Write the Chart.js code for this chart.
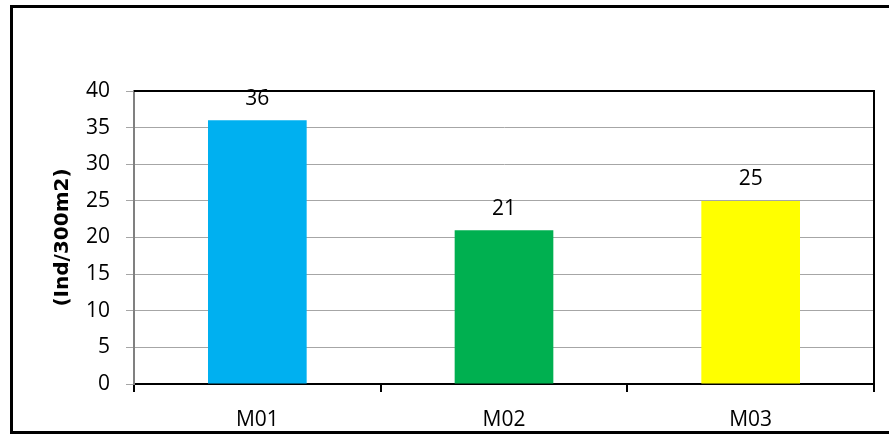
<!DOCTYPE html>
<html>
<head>
<meta charset="utf-8">
<script src="https://cdn.jsdelivr.net/npm/chart.js@4"></script>
<style>
  html, body { margin: 0; padding: 0; background: #fff; }
  #wrap { width: 889px; height: 435px; position: relative; }
</style>
</head>
<body>
<div id="wrap"><canvas id="grafico"></canvas></div>
<script>
const categorias = ['M01', 'M02', 'M03'];
const valores = [36, 21, 25];
const cores = ['#00B0F0', '#00B050', '#FFFF00'];
const tituloY = '(Ind/300m2)';

const fonte = "'Open Sans', 'DejaVu Sans', sans-serif";

// moldura externa + bordas de cima/direita do plot + rótulos das barras
const molduraPlugin = {
  id: 'moldura',
  afterDraw(chart) {
    const c = chart.ctx;
    const a = chart.chartArea;
    c.save();
    c.strokeStyle = '#000';
    c.lineWidth = 2;
    c.beginPath();
    c.moveTo(a.left, a.top);
    c.lineTo(a.right, a.top);
    c.lineTo(a.right, a.bottom + 8);
    c.stroke();
    c.lineWidth = 3;
    c.strokeRect(11.5, 6.5, 900, 426);
    c.restore();
  },
  afterDatasetsDraw(chart) {
    const c = chart.ctx;
    const meta = chart.getDatasetMeta(0);
    c.save();
    c.fillStyle = '#000';
    c.font = '21px ' + fonte;
    c.textAlign = 'center';
    c.textBaseline = 'bottom';
    meta.data.forEach((bar, i) => {
      c.fillText(String(valores[i]), bar.x, bar.y - 11);
    });
    c.restore();
  }
};

const ctx = document.getElementById('grafico').getContext('2d');
new Chart(ctx, {
  type: 'bar',
  data: {
    labels: categorias,
    datasets: [{
      data: valores,
      backgroundColor: cores,
      borderWidth: 0,
      categoryPercentage: 1,
      barPercentage: 0.4
    }]
  },
  options: {
    responsive: true,
    maintainAspectRatio: false,
    animation: false,
    layout: { padding: { top: 91, right: 15, left: 0, bottom: 0 } },
    plugins: {
      legend: { display: false },
      tooltip: { enabled: false }
    },
    scales: {
      x: {
        afterFit(scale) { scale.height = 51; },
        grid: {
          drawOnChartArea: false,
          drawTicks: true,
          tickLength: 8,
          color: '#000',
          lineWidth: 2,
          offset: true
        },
        border: { color: '#000', width: 2 },
        ticks: { color: '#000', font: { family: fonte, size: 21 }, padding: 15 }
      },
      y: {
        min: 0,
        max: 40,
        afterFit(scale) { scale.width = 134; },
        grid: {
          color: '#A6A6A6',
          lineWidth: 1,
          tickLength: 8
        },
        border: { color: '#808080', width: 2 },
        ticks: {
          stepSize: 5,
          color: '#000',
          font: { family: fonte, size: 21 },
          padding: 16
        },
        title: {
          display: true,
          text: tituloY,
          color: '#000',
          font: { family: "'DejaVu Sans', sans-serif", size: 20, weight: 'bold' },
          padding: { top: 51, bottom: 0 }
        }
      }
    }
  },
  plugins: [molduraPlugin]
});
</script>
</body>
</html>
